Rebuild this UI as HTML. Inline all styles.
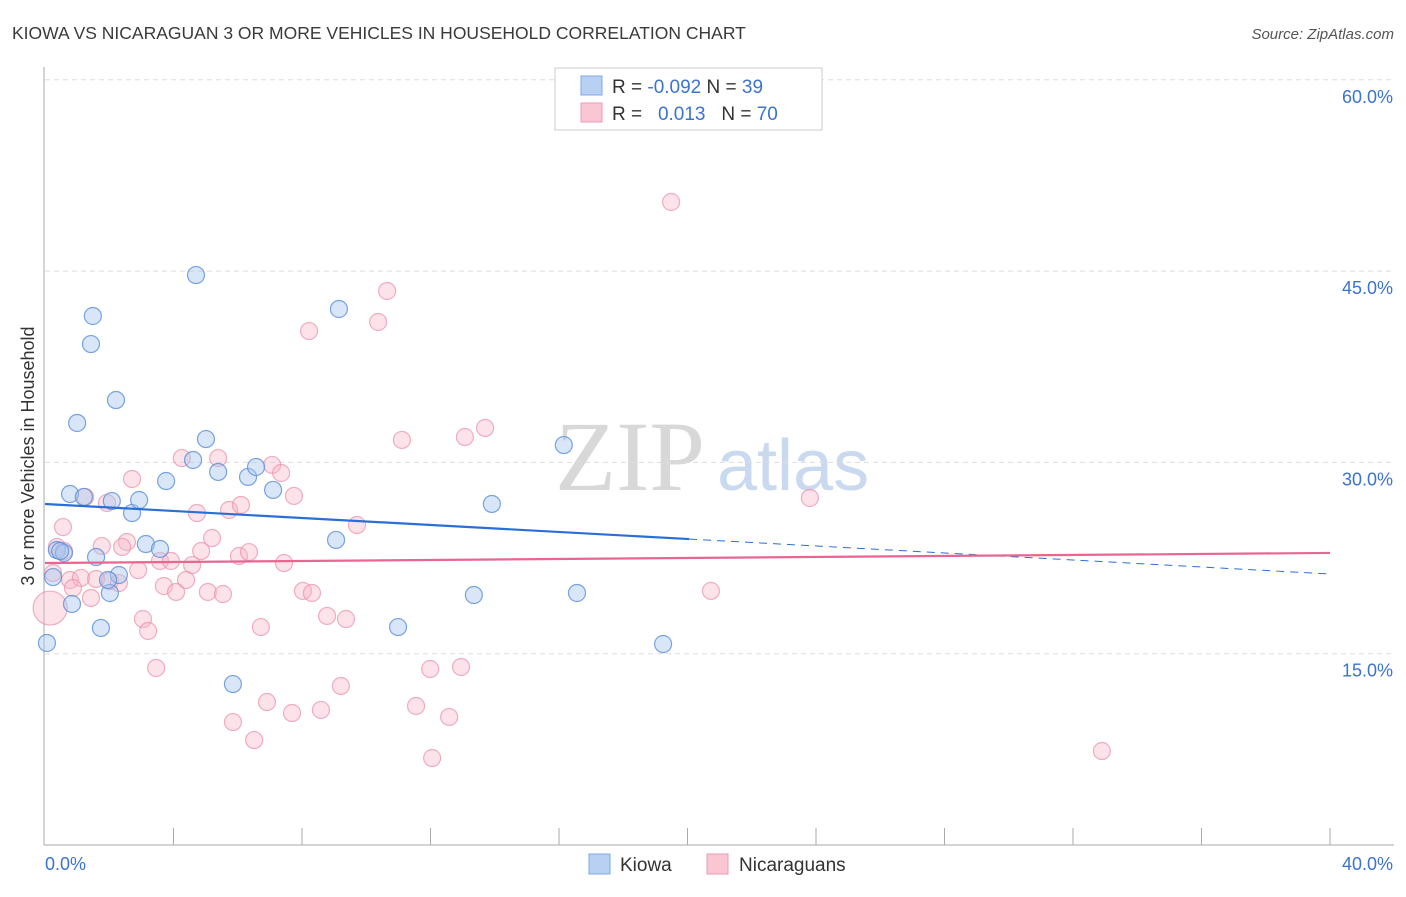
<!DOCTYPE html>
<html><head><meta charset="utf-8"><style>
body{margin:0;background:#fff;font-family:"Liberation Sans",sans-serif;}
</style></head><body>
<svg id="chart" width="1406" height="892" xmlns="http://www.w3.org/2000/svg" font-family="Liberation Sans, sans-serif">
<text x="12" y="39" font-size="17.5" fill="#3a3a3a">KIOWA VS NICARAGUAN 3 OR MORE VEHICLES IN HOUSEHOLD CORRELATION CHART</text>
<text x="1394" y="39" font-size="15" fill="#555" font-style="italic" text-anchor="end">Source: ZipAtlas.com</text>
<g>
<text x="555" y="490" font-size="100" font-family="Liberation Serif, serif" fill="#d8d8d8">ZIP</text>
<text x="717" y="490" font-size="72" fill="#c9daf0">atlas</text>
</g>
<g id="grid"></g>
<g id="axes"></g>
<g id="marks"></g>
<g id="trends"></g>
<g>
<rect x="555" y="68" width="267" height="62" fill="#fff" stroke="#ccc"/>
<rect x="581" y="76" width="21" height="19" fill="#b8d1f3" stroke="#7ea8e8"/>
<rect x="581" y="103" width="21" height="19" fill="#f9c6d4" stroke="#ee9ab3"/>
<text x="612" y="93" font-size="19" fill="#333">R = <tspan fill="#3b73d1">-0.092</tspan>   N = <tspan fill="#3b73d1">39</tspan></text>
<text x="612" y="120" font-size="19" fill="#333" xml:space="preserve">R =   <tspan fill="#3b73d1">0.013</tspan>   N = <tspan fill="#3b73d1">70</tspan></text>
</g>
<g>
<rect x="589" y="854" width="21" height="20" fill="#b8d1f3" stroke="#7ea8e8"/>
<text x="620" y="871" font-size="19" fill="#333">Kiowa</text>
<rect x="707" y="854" width="21" height="20" fill="#f9c6d4" stroke="#ee9ab3"/>
<text x="739" y="871" font-size="19" fill="#333">Nicaraguans</text>
</g>
<text transform="translate(34,456) rotate(-90)" font-size="18" fill="#333" text-anchor="middle">3 or more Vehicles in Household</text>
</svg>
<script>
const kiowaX=[0.06,0.25,0.37,0.59,0.78,0.84,1.0,1.21,1.43,1.49,1.59,1.74,2.02,2.08,2.21,2.3,2.71,2.93,3.14,3.58,3.77,4.61,4.7,5.01,5.39,5.85,6.32,6.57,7.1,9.06,9.15,10.99,13.35,13.91,16.15,16.56,19.24,1.96,0.47];
const kiowaY=[15.84,21.01,23.13,22.9,27.52,18.9,33.09,27.29,39.28,41.48,22.58,17.02,19.76,26.97,34.89,21.17,26.03,27.05,23.6,23.21,28.54,30.19,44.69,31.83,29.25,12.62,28.86,29.64,27.84,23.92,42.03,17.09,19.6,26.74,31.36,19.76,15.76,20.78,23.05];
const nicX=[4.26,5.39,2.71,7.07,7.35,7.75,1.25,1.93,4.73,5.73,6.10,9.71,0.56,1.77,2.55,2.40,5.20,4.86,6.04,6.35,3.58,3.92,4.58,7.44,2.90,0.25,0.78,1.12,1.59,2.02,2.30,0.87,1.43,3.70,4.39,4.08,5.07,5.54,8.03,8.31,0.16,8.78,9.37,3.05,3.21,6.72,3.46,9.21,6.91,5.85,7.69,8.59,6.51,19.49,10.65,8.22,10.37,11.11,13.07,13.70,23.81,20.73,11.99,12.95,11.55,12.58,12.05,32.9,0.59,0.37];
const nicY=[30.34,30.34,28.7,29.8,29.17,27.37,27.29,26.82,26.03,26.27,26.66,25.09,24.93,23.44,23.76,23.37,24.07,23.05,22.66,22.97,22.27,22.27,21.95,22.11,21.56,21.33,20.78,20.94,20.86,20.7,20.54,20.15,19.37,20.31,20.78,19.84,19.84,19.68,19.92,19.76,18.58,17.96,17.72,17.72,16.78,17.09,13.88,12.47,11.21,9.64,10.35,10.59,8.23,50.42,43.44,40.3,41.01,31.76,31.99,32.7,27.21,19.92,13.8,13.96,10.9,10.04,6.82,7.37,23.05,23.37];
const nicSize=[1,1,1,1,1,1,1,1,1,1,1,1,1,1,1,1,1,1,1,1,1,1,1,1,1,1,1,1,1,1,1,1,1,1,1,1,1,1,1,1,2,1,1,1,1,1,1,1,1,1,1,1,1,1,1,1,1,1,1,1,1,1,1,1,1,1,1,1,1,1];
const yTicks=[15,30,45,60];
const yTickLabels=["15.0%","30.0%","45.0%","60.0%"];
const kiowaTrend=[26.74,21.25];
const nicTrend=[22.11,22.9];
const kiowaSolidEnd=20.05;

const NS="http://www.w3.org/2000/svg";
const X0=45,X1=1330,YB=845,PX15=191.3;
function sx(v){return X0+(v/40)*(X1-X0);}
function sy(v){return YB-v/15*PX15;}
function mk(tag,attrs,parent){const e=document.createElementNS(NS,tag);for(const k in attrs)e.setAttribute(k,attrs[k]);parent.appendChild(e);return e;}
const grid=document.getElementById('grid'),axes=document.getElementById('axes'),marks=document.getElementById('marks'),trends=document.getElementById('trends');
yTicks.forEach((t,i)=>{
  const l=mk('line',{x1:45,x2:1394,y1:sy(t),y2:sy(t),stroke:'#ddd','stroke-dasharray':'5,4'},grid);
  
  
  const tx=mk('text',{x:1393,y:sy(t)+23,'font-size':18,fill:'#3b73d1','text-anchor':'end'},axes);
  tx.textContent=yTickLabels[i];
  
  
});
const ya=mk('line',{x1:44,x2:44,y1:67,y2:845,stroke:'#aaa'},axes);


const xa=mk('line',{x1:44,x2:1394,y1:845,y2:845,stroke:'#aaa'},axes);


for(let v=4;v<=40;v+=4){
  const t=mk('line',{x1:sx(v),x2:sx(v),y1:828,y2:845,stroke:'#aaa'},axes);
  
  
}
const xl0=mk('text',{x:45,y:870,'font-size':18,fill:'#3b73d1'},axes);xl0.textContent='0.0%';


const xl1=mk('text',{x:1393,y:870,'font-size':18,fill:'#3b73d1','text-anchor':'end'},axes);xl1.textContent='40.0%';


nicX.forEach((x,i)=>{
  const c=mk('circle',{cx:sx(x),cy:sy(nicY[i]),r:8.5*nicSize[i],fill:'#f7b6c9','fill-opacity':0.4,stroke:'#ea8fab','stroke-opacity':0.7,'stroke-width':1.2},marks);
  
  
});
kiowaX.forEach((x,i)=>{
  const c=mk('circle',{cx:sx(x),cy:sy(kiowaY[i]),r:8.5,fill:'#a9c8f0','fill-opacity':0.45,stroke:'#5a8fd8','stroke-opacity':0.8,'stroke-width':1.2},marks);
  
  
});
function ky(x){return kiowaTrend[0]+(kiowaTrend[1]-kiowaTrend[0])*x/40;}
const b1=mk('line',{x1:sx(0),y1:sy(kiowaTrend[0]),x2:sx(kiowaSolidEnd),y2:sy(ky(kiowaSolidEnd)),stroke:'#2a6fd6','stroke-width':2.2},trends);


const b2=mk('line',{x1:sx(kiowaSolidEnd),y1:sy(ky(kiowaSolidEnd)),x2:sx(40),y2:sy(kiowaTrend[1]),stroke:'#2a6fd6','stroke-width':1,'stroke-dasharray':'8,6'},trends);


const p1=mk('line',{x1:sx(0),y1:sy(nicTrend[0]),x2:sx(40),y2:sy(nicTrend[1]),stroke:'#e8668f','stroke-width':2.2},trends);


</script>
</body></html>
